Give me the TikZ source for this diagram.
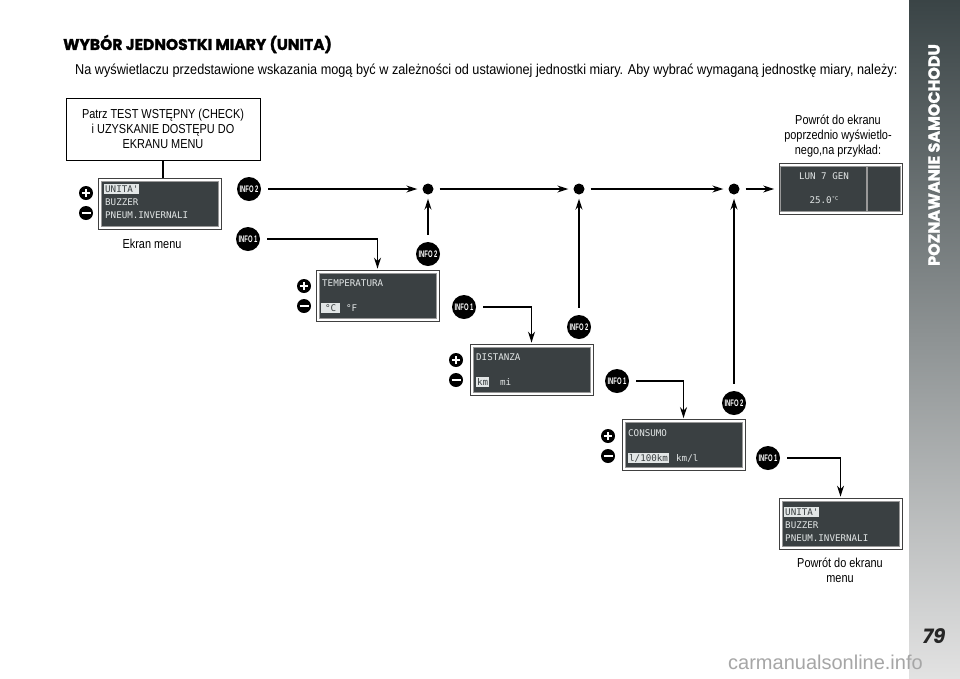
\documentclass[tikz,border=0pt]{standalone}
\usepackage{fontspec}
\setmainfont{Liberation Sans}[FakeStretch=0.84]
\newfontfamily\introfont{Liberation Sans}[FakeStretch=0.888]
\newfontfamily\titlefont{Poppins}[BoldFeatures={FakeBold=1.5}]
\newfontfamily\lcdfont{DejaVu Sans Mono}
\newfontfamily\infofont{Liberation Sans}[FakeStretch=0.62]
\newfontfamily\wmfont{Liberation Sans}
\usetikzlibrary{arrows.meta,calc}
\definecolor{lcdbg}{HTML}{3A4042}
\definecolor{lcdtxt}{HTML}{E2E6E6}
\definecolor{side1}{HTML}{3A4446}
\definecolor{side2}{HTML}{8E9A98}
\definecolor{side3}{HTML}{E2E2E2}
\begin{document}
\begin{tikzpicture}[x=1pt,y=-1pt,
  every node/.style={inner sep=0pt},
  conn/.style={line width=1.3pt},
  arr/.style={conn,-{Stealth[length=11pt,width=7pt]}},
  lcdframe/.style={draw=black!75,line width=0.8pt,fill=white,minimum width=123pt,minimum height=51pt},
  lcdscreen/.style={draw=black!40,line width=0.5pt,fill=lcdbg,minimum width=117pt,minimum height=45pt},
  lcdtext/.style={text=lcdtxt,font=\lcdfont\fontsize{9.2}{10}\selectfont,anchor=west},
  lcdsel/.style={fill=lcdtxt,text=lcdbg,font=\lcdfont\fontsize{9.2}{10}\selectfont,anchor=west,inner xsep=1pt,inner ysep=1.5pt},
  infobtn/.style={circle,fill=black,minimum size=24pt,text=white,font=\infofont\bfseries\fontsize{9.5}{10}\selectfont},
  dotnode/.style={circle,fill=black,minimum size=11pt},
  plusbtn/.style={circle,fill=black,minimum size=14pt,path picture={\draw[white,line width=2.4pt] ($(path picture bounding box.center)+(-4.2pt,0)$) -- ($(path picture bounding box.center)+(4.2pt,0)$) ($(path picture bounding box.center)+(0,-4.2pt)$) -- ($(path picture bounding box.center)+(0,4.2pt)$);}},
  minusbtn/.style={circle,fill=black,minimum size=14pt,path picture={\draw[white,line width=2.6pt] ($(path picture bounding box.center)+(-4.5pt,0)$) -- ($(path picture bounding box.center)+(4.5pt,0)$);}},
  label/.style={font=\fontsize{13}{15}\selectfont,align=center}
]
\useasboundingbox (0,0) rectangle (960,678);
\fill[white] (0,0) rectangle (960,678);
% sidebar
\shade[top color=side1,middle color=side2,bottom color=side3] (909,0) rectangle (960,678);
\node[rotate=90,text=white,font=\titlefont\bfseries\fontsize{16}{16}\selectfont] (sidetitle) at (934,155) {POZNAWANIE SAMOCHODU};
\node[text=black!85,font=\titlefont\bfseries\itshape\fontsize{20}{20}\selectfont] (pagenum) at (934,636) {79};
\node[text=black!35,font=\wmfont\fontsize{20}{20}\selectfont,anchor=west] (wm) at (728,662) {carmanualsonline.info};
% title
\node[anchor=west,font=\titlefont\bfseries\fontsize{15.5}{16}\selectfont] (title) at (63,44) {WYBÓR JEDNOSTKI MIARY (UNITA)};
\node[anchor=west,font=\introfont\fontsize{14.3}{16}\selectfont] (intro) at (75,71) {Na wyświetlaczu przedstawione wskazania mogą być w zależności od ustawionej jednostki miary. Aby wybrać wymaganą jednostkę miary, należy:};
% start box
\node[draw,line width=0.8pt,minimum width=194pt,minimum height=62pt,label] (patrz) at (163,129) {Patrz TEST WSTĘPNY (CHECK)\\i UZYSKANIE DOSTĘPU DO\\EKRANU MENU};
% menu display
\node[lcdframe] (m1) at (159.5,203.5) {};
\node[lcdscreen] (m1s) at (159.5,203.5) {};
\node[lcdsel] (m1a) at (104,189) {UNITA'};
\node[lcdtext] (m1b) at (105,202) {BUZZER};
\node[lcdtext] (m1c) at (105,215) {PNEUM.INVERNALI};
\node[plusbtn] (p1) at (86,193) {};
\node[minusbtn] (n1) at (86,213) {};
\node[label] (ekran) at (152,244) {Ekran menu};
% temperature display
\node[lcdframe] (t1) at (377.5,295.5) {};
\node[lcdscreen] (t1s) at (377.5,295.5) {};
\node[lcdtext] (t1a) at (322,283) {TEMPERATURA};
\node[lcdsel,minimum width=19pt] (t1b) at (321,308) {°C};
\node[lcdtext] (t1c) at (346,308) {°F};
\node[plusbtn] (p2) at (304,286) {};
\node[minusbtn] (n2) at (304,306) {};
% distance display
\node[lcdframe] (d1s0) at (531.5,369.5) {};
\node[lcdscreen] (ds) at (531.5,369.5) {};
\node[lcdtext] (da) at (476,357) {DISTANZA};
\node[lcdsel] (db) at (476,382) {km};
\node[lcdtext] (dc) at (500,382) {mi};
\node[plusbtn] (p3) at (456,360) {};
\node[minusbtn] (n3) at (456,380) {};
% consumption display
\node[lcdframe] (c1) at (683.5,445) {};
\node[lcdscreen] (cs) at (683.5,445) {};
\node[lcdtext] (ca) at (628,433) {CONSUMO};
\node[lcdsel] (cb) at (628,458) {l/100km};
\node[lcdtext] (cc) at (676,458) {km/l};
\node[plusbtn] (p4) at (608,436) {};
\node[minusbtn] (n4) at (608,456) {};
% back to menu display
\node[lcdframe] (e1) at (840.5,523.5) {};
\node[lcdscreen] (es) at (840.5,523.5) {};
\node[lcdsel] (ea) at (784,512) {UNITA'};
\node[lcdtext] (eb) at (785,525) {BUZZER};
\node[lcdtext] (ec) at (785,538) {PNEUM.INVERNALI};
\node[label] (back2) at (840,570) {Powrót do ekranu\\menu};
% previous screen display
\node[lcdframe] (lun) at (841,189) {};
\node[lcdscreen,minimum width=86pt,minimum height=45pt] (luns) at (823,189) {};
\node[lcdscreen,minimum width=33pt,minimum height=45pt] (lunr) at (884,189) {};
\node[text=lcdtxt,font=\lcdfont\fontsize{9.2}{10}\selectfont] (luna) at (824,176) {LUN 7 GEN};
\node[text=lcdtxt,font=\lcdfont\fontsize{9.2}{10}\selectfont] (lunb) at (824,200) {25.0\raisebox{3pt}{\fontsize{5.5}{6}\selectfont°C}};
\node[label] (back1) at (838,136) {Powrót do ekranu\\poprzednio wyświetlo-\\nego,na przykład:};
% buttons
\node[infobtn] (i2a) at (249,189) {INFO 2};
\node[infobtn] (i1a) at (248,239) {INFO 1};
\node[infobtn] (i2b) at (428,254) {INFO 2};
\node[infobtn] (i1b) at (464,307) {INFO 1};
\node[infobtn] (i2c) at (579,327) {INFO 2};
\node[infobtn] (i1c) at (617,381) {INFO 1};
\node[infobtn] (i2d) at (734,403) {INFO 2};
\node[infobtn] (i1d) at (768,458) {INFO 1};
% junction dots
\node[dotnode] (j1) at (428,189) {};
\node[dotnode] (j2) at (579,189) {};
\node[dotnode] (j3) at (734,189) {};
% connectors
\draw[conn] (patrz.south) -- (patrz.south |- m1.north);
\draw[arr,shorten <=7pt,shorten >=5pt] (i2a) -- (j1);
\draw[arr,shorten <=6pt,shorten >=5pt] (j1) -- (j2);
\draw[arr,shorten <=6pt,shorten >=5pt] (j2) -- (j3);
\draw[arr,shorten <=6pt,shorten >=5pt] (j3) -- (lun.west);
\draw[arr,shorten <=7pt,shorten >=4pt] (i2b) -- (j1);
\draw[arr,shorten <=7pt,shorten >=4pt] (i2c) -- (j2);
\draw[arr,shorten <=7pt,shorten >=4pt] (i2d) -- (j3);
\draw[arr,shorten <=7pt,shorten >=1pt] (i1a) -| (t1.north);
\draw[arr,shorten <=7pt,shorten >=1pt] (i1b) -| (d1s0.north);
\draw[arr,shorten <=7pt,shorten >=1pt] (i1c) -| (c1.north);
\draw[arr,shorten <=7pt,shorten >=1pt] (i1d) -| (e1.north);
\end{tikzpicture}
\end{document}
